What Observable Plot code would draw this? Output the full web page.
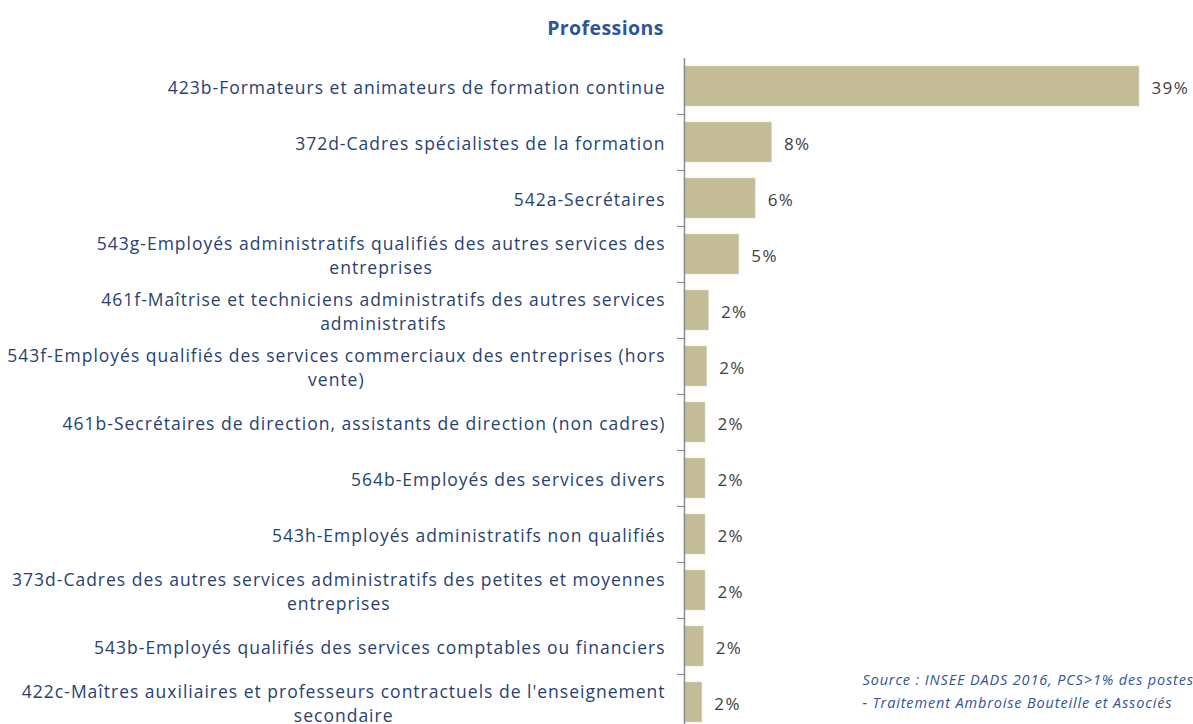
<!DOCTYPE html>
<html>
<head>
<meta charset="utf-8">
<script src="https://cdn.jsdelivr.net/npm/d3@7"></script>
<script src="https://cdn.jsdelivr.net/npm/@observablehq/plot@0.6"></script>
<style>
  html, body { margin: 0; padding: 0; background: #fff; overflow: hidden; }
  #chart { position: relative; width: 1193px; height: 724px; }
</style>
</head>
<body>
<div id="chart"></div>
<script>
const categories = [
  "423b-Formateurs et animateurs de formation continue",
  "372d-Cadres spécialistes de la formation",
  "542a-Secrétaires",
  "543g-Employés administratifs qualifiés des autres services des\nentreprises",
  "461f-Maîtrise et techniciens administratifs des autres services\nadministratifs",
  "543f-Employés qualifiés des services commerciaux des entreprises (hors\nvente)",
  "461b-Secrétaires de direction, assistants de direction (non cadres)",
  "564b-Employés des services divers",
  "543h-Employés administratifs non qualifiés",
  "373d-Cadres des autres services administratifs des petites et moyennes\nentreprises",
  "543b-Employés qualifiés des services comptables ou financiers",
  "422c-Maîtres auxiliaires et professeurs contractuels de l'enseignement\nsecondaire"
];
const values = [39, 7.5, 6.1, 4.7, 2.1, 1.95, 1.8, 1.8, 1.8, 1.8, 1.65, 1.53];
const titleText = "Professions";
const sourceLines = [
  "Source : INSEE DADS 2016, PCS>1% des postes",
  "- Traitement Ambroise Bouteille et Associés"
];

const data = categories.map((c, i) => ({label: c, value: values[i]}));

const W = 1193, H = 724;
const mLeft = 684, mRight = 54, mTop = 58;
const yRange = [58, 730];
const step = (yRange[1] - yRange[0]) / categories.length;
const font = "Open Sans, sans-serif";
const labelColor = "#274272";

const plot = Plot.plot({
  width: W,
  height: H,
  marginLeft: mLeft,
  marginRight: mRight,
  marginTop: mTop,
  marginBottom: 0,
  style: {fontFamily: font, background: "#fff", overflow: "hidden"},
  x: {domain: [0, 39], axis: null},
  y: {domain: categories, range: yRange, paddingInner: 0.28, paddingOuter: 0.14, axis: null},
  marks: [
    Plot.barX(data, {y: "label", x: "value", fill: "#c4bc96", stroke: "#ddd8c0", strokeWidth: 0.6}),
    Plot.ruleX([0], {stroke: "#8c8c8c", strokeWidth: 1.5}),
    Plot.ruleY(categories, {y: d => d, dy: step / 2, x1: 0, x2: 0, insetLeft: -7, stroke: "#8c8c8c", strokeWidth: 1.2}),
    Plot.text(data, {
      y: "label", x: "value", text: d => Math.round(d.value) + "%",
      dx: 12, dy: 2, textAnchor: "start", fill: "#404040", fontSize: 17, fontFamily: font,
      className: "vallabel"
    }),
    Plot.text(data, {
      y: "label", x: 0, text: "label", dx: -19, dy: 0,
      textAnchor: "end", lineHeight: 1.35, lineAnchor: "middle",
      fill: labelColor, fontSize: 17.5, fontFamily: font, className: "catlabel"
    }),
    Plot.text([titleText], {
      frameAnchor: "top-left", text: d => d, dx: 605 - mLeft, dy: -mTop + 21,
      textAnchor: "middle", fontWeight: "bold", fontSize: 19.5, fill: "#2f5597", fontFamily: font,
      className: "titlelabel"
    }),
    Plot.text([sourceLines.join("\n")], {
      frameAnchor: "bottom-left", text: d => d, dx: 862 - mLeft, dy: -(H - 707),
      textAnchor: "start", lineAnchor: "bottom", lineHeight: 1.55,
      fontStyle: "italic", fontSize: 14.5, fill: "#2f5597", fontFamily: font,
      className: "srclabel"
    })
  ]
});

const style = document.createElementNS("http://www.w3.org/2000/svg", "style");
style.textContent = `
  .catlabel text { letter-spacing: 1.0px; }
  .vallabel text { letter-spacing: 1.4px; }
  .titlelabel text { letter-spacing: 0.4px; }
  .srclabel text { letter-spacing: 0.85px; }
`;
plot.appendChild(style);

document.getElementById("chart").appendChild(plot);

// Center the lines of wrapped labels within their right-aligned block
plot.querySelectorAll(".catlabel text").forEach(t => {
  const spans = t.querySelectorAll("tspan");
  if (spans.length > 1) {
    const bb = t.getBBox();
    t.setAttribute("text-anchor", "middle");
    const tr = t.getAttribute("transform") || "";
    t.setAttribute("transform", tr + ` translate(${-bb.width / 2},0)`);
  }
});
</script>
</body>
</html>
